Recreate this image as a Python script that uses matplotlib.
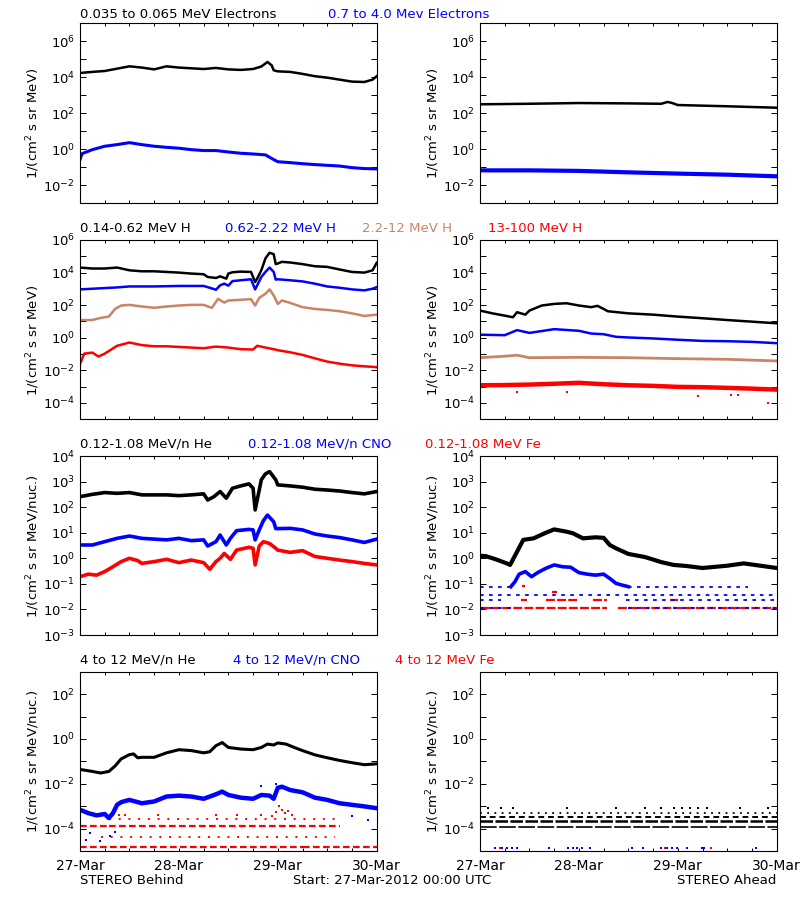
import matplotlib
matplotlib.use('Agg')
import matplotlib.pyplot as plt
import numpy as np
from matplotlib.ticker import FixedLocator, FuncFormatter, NullLocator

# time in hours after 27-Mar-2012 00:00 UTC, fluxes stored as log10 values
BROWN = '#c98466'

# ---- row 1 : electrons
beh_e1_t = [0, 3, 6, 9, 12, 15, 18, 21, 24, 27, 30, 33, 36, 39, 42, 44, 45.5, 46.5, 47, 48, 51, 54, 57, 60, 63, 66, 69, 71, 72]
beh_e1_v = [4.24, 4.3, 4.35, 4.48, 4.61, 4.54, 4.44, 4.61, 4.54, 4.5, 4.46, 4.52, 4.44, 4.41, 4.46, 4.6, 4.85, 4.67, 4.39, 4.33, 4.3, 4.19, 4.06, 3.98, 3.87, 3.76, 3.74, 3.87, 4.06]
beh_e2_t = [0, 0.5, 3, 6, 9, 12, 15, 18, 21, 24, 27, 30, 33, 36, 39, 42, 45, 47, 48, 51, 54, 57, 60, 63, 66, 69, 72]
beh_e2_v = [-0.57, -0.24, -0.02, 0.17, 0.26, 0.37, 0.26, 0.17, 0.11, 0.06, -0.02, -0.07, -0.07, -0.15, -0.22, -0.26, -0.31, -0.57, -0.69, -0.74, -0.8, -0.85, -0.89, -0.93, -1.02, -1.07, -1.09]
ahd_e1_t = [0, 12, 24, 36, 44, 45.5, 46.5, 48, 60, 66, 72]
ahd_e1_v = [2.5, 2.53, 2.57, 2.55, 2.53, 2.63, 2.58, 2.46, 2.39, 2.35, 2.31]
ahd_e2_t = [0, 12, 24, 36, 48, 60, 72]
ahd_e2_v = [-1.17, -1.17, -1.2, -1.28, -1.35, -1.41, -1.5]

# ---- row 2 : protons
beh_h1_t = [0, 3, 6, 9, 12, 15, 18, 21, 24, 27, 30, 31, 33, 34, 35.5, 36, 37, 39, 41.5, 42.5, 43, 44, 45, 46, 47, 47.5, 48, 49, 51, 54, 57, 60, 63, 66, 69, 71, 72]
beh_h1_v = [4.31, 4.25, 4.25, 4.31, 4.14, 4.08, 4.08, 4.04, 4.0, 3.94, 3.9, 3.73, 3.67, 3.77, 3.63, 3.94, 4.02, 4.06, 4.04, 3.42, 3.63, 4.14, 4.87, 5.22, 5.13, 4.52, 4.56, 4.66, 4.62, 4.52, 4.39, 4.35, 4.19, 4.04, 4.0, 4.14, 4.6]
beh_h2_t = [0, 3, 6, 9, 12, 18, 24, 30, 32, 33, 34, 35, 36, 37, 39, 41.5, 42.5, 43, 44, 45, 46, 47, 47.5, 48, 51, 54, 57, 60, 63, 66, 69, 71, 72]
beh_h2_v = [2.97, 3.01, 3.05, 3.09, 3.15, 3.15, 3.18, 3.18, 3.03, 2.95, 3.22, 3.32, 3.2, 3.48, 3.53, 3.59, 2.97, 3.22, 3.73, 4.04, 4.31, 4.04, 3.57, 3.59, 3.53, 3.46, 3.32, 3.15, 3.07, 2.97, 2.91, 3.01, 3.11]
beh_h3_t = [0, 3, 5, 7, 8.5, 10, 12, 15, 18, 21, 24, 27, 30, 32, 33.5, 35, 36, 39, 41.5, 42.5, 43.5, 45, 46, 47, 48, 49, 51, 54, 57, 60, 63, 66, 69, 72]
beh_h3_v = [1.09, 1.09, 1.22, 1.3, 1.77, 1.98, 2.02, 1.92, 1.84, 1.92, 1.98, 2.02, 2.02, 1.84, 2.39, 2.16, 2.29, 2.33, 2.37, 1.98, 2.45, 2.7, 2.97, 2.6, 2.08, 2.29, 2.14, 1.88, 1.77, 1.71, 1.63, 1.5, 1.34, 1.42]
beh_h4_t = [0, 1, 3, 4.5, 6, 9, 12, 15, 18, 21, 24, 27, 30, 33, 36, 39, 42, 43, 45, 47, 48, 51, 54, 57, 60, 63, 66, 69, 72]
beh_h4_v = [-1.63, -0.97, -0.91, -1.15, -0.97, -0.49, -0.29, -0.45, -0.52, -0.52, -0.56, -0.6, -0.64, -0.54, -0.6, -0.7, -0.72, -0.49, -0.6, -0.7, -0.76, -0.89, -1.05, -1.26, -1.46, -1.59, -1.69, -1.75, -1.8]
ahd_h1_t = [0, 3, 6, 8, 9, 11, 12, 15, 18, 21, 24, 27, 28.5, 30, 31, 36, 42, 48, 54, 60, 66, 72]
ahd_h1_v = [1.67, 1.5, 1.36, 1.26, 1.57, 1.42, 1.67, 1.98, 2.08, 2.12, 1.98, 1.88, 1.96, 1.77, 1.63, 1.5, 1.42, 1.3, 1.2, 1.09, 0.99, 0.89]
ahd_h2_t = [0, 6, 9, 12, 18, 24, 27, 30, 33, 36, 42, 48, 54, 60, 66, 72]
ahd_h2_v = [0.19, 0.16, 0.47, 0.3, 0.53, 0.43, 0.26, 0.22, 0.06, 0.02, -0.04, -0.12, -0.19, -0.21, -0.25, -0.33]
ahd_h3_t = [0, 6, 9, 12, 24, 36, 48, 60, 72]
ahd_h3_v = [-1.22, -1.13, -1.07, -1.22, -1.2, -1.22, -1.28, -1.32, -1.42]
ahd_h4_t = [0, 6, 12, 18, 24, 30, 36, 42, 48, 54, 60, 66, 72]
ahd_h4_v = [-2.91, -2.9, -2.87, -2.82, -2.76, -2.85, -2.91, -2.95, -3.01, -3.03, -3.07, -3.12, -3.18]
ahd_h4_out_t = [9, 21, 53, 61, 62.5, 70]
ahd_h4_out_v = [-3.35, -3.3, -3.55, -3.48, -3.48, -4.0]

# ---- row 3 : 0.12-1.08 MeV/n ions
beh_he_lo_t = [0, 3, 6, 9, 12, 15, 18, 21, 24, 27, 30, 31, 32.5, 34, 35.5, 37, 39, 41, 42, 42.5, 43.5, 44, 45, 46, 47.5, 48, 51, 54, 57, 60, 63, 66, 69, 72]
beh_he_lo_v = [2.41, 2.5, 2.57, 2.54, 2.57, 2.48, 2.48, 2.48, 2.45, 2.48, 2.52, 2.28, 2.41, 2.61, 2.35, 2.74, 2.83, 2.91, 2.74, 1.89, 2.67, 3.07, 3.3, 3.39, 3.07, 2.87, 2.83, 2.78, 2.7, 2.67, 2.63, 2.57, 2.52, 2.61]
beh_cno_lo_t = [0, 3, 6, 9, 12, 15, 18, 21, 24, 27, 30, 31, 33, 34, 35.5, 36.5, 38, 41, 42, 42.5, 43.5, 44.5, 45.5, 47, 47.5, 48, 51, 54, 57, 60, 63, 66, 69, 72]
beh_cno_lo_v = [0.52, 0.52, 0.65, 0.78, 0.87, 0.78, 0.75, 0.72, 0.78, 0.69, 0.72, 0.48, 0.65, 0.91, 0.52, 0.78, 1.08, 1.13, 1.11, 0.72, 1.11, 1.47, 1.69, 1.43, 1.16, 1.16, 1.17, 1.11, 0.95, 0.87, 0.81, 0.72, 0.62, 0.75]
beh_fe_lo_t = [0, 2, 4, 6, 8, 10, 12, 14, 15, 18, 21, 24, 27, 30, 31.5, 33, 34, 35, 36.5, 38, 41, 42, 42.5, 43.5, 44.5, 46, 47.5, 48, 51, 54, 57, 60, 63, 66, 69, 72]
beh_fe_lo_v = [-0.72, -0.62, -0.66, -0.52, -0.33, -0.13, 0.0, -0.09, -0.2, -0.13, -0.04, -0.17, -0.07, -0.17, -0.43, -0.13, 0.0, 0.19, -0.04, 0.32, 0.43, 0.39, -0.26, 0.48, 0.65, 0.58, 0.39, 0.32, 0.23, 0.3, 0.07, 0.0, -0.07, -0.13, -0.2, -0.26]

ahd_he_lo_t = [0, 1.5, 4, 6.5, 7.3, 9, 10.5, 13, 16, 18, 21, 22.5, 25, 28, 30, 31.5, 33, 36, 40, 44, 47, 50, 54, 60, 64, 68, 72]
ahd_he_lo_v = [0.1, 0.08, -0.05, -0.2, -0.26, 0.26, 0.72, 0.78, 1.0, 1.13, 1.04, 0.98, 0.78, 0.82, 0.8, 0.52, 0.39, 0.17, 0.05, -0.15, -0.26, -0.3, -0.38, -0.29, -0.2, -0.29, -0.38]
ahd_cno_lo_t = [7.5, 8.5, 9.5, 11, 12.5, 14, 16, 18, 20, 22, 24, 26, 28, 30, 31.5, 33, 34.5, 36]
ahd_cno_lo_v = [-1.11, -0.91, -0.62, -0.52, -0.72, -0.56, -0.39, -0.26, -0.33, -0.35, -0.56, -0.62, -0.66, -0.62, -0.79, -0.98, -1.05, -1.11]
# quantised count levels: level, start hour, end hour
ahd_cno_lo_lvl = [-1.96, -1.96, -1.64, -1.64, -1.44, -1.11, -1.11]
ahd_cno_lo_t0 = [0, 36, 0, 35.5, 0, 0, 36]
ahd_cno_lo_t1 = [8, 72, 5, 72, 72, 7.5, 65]
ahd_fe_lo_lvl = [-1.96, -1.96, -1.64, -1.64, -1.64, -1.64, -1.3, -1.08]
ahd_fe_lo_t0 = [0, 33.5, 10, 16, 27.5, 46, 17.4, 10.3]
ahd_fe_lo_t1 = [30.7, 72, 11.3, 24, 30.7, 48, 18.6, 10.8]

# ---- row 4 : 4-12 MeV/n ions
beh_he_hi_t = [0, 3, 5, 7, 8.5, 10, 12, 13, 14, 15, 18, 21, 24, 27, 30, 31.5, 33, 34.5, 36, 39, 42, 44, 45.5, 47, 48, 50, 52, 54, 57, 60, 63, 66, 69, 72]
beh_he_hi_v = [-1.36, -1.45, -1.52, -1.45, -1.21, -0.89, -0.7, -0.67, -0.84, -0.82, -0.82, -0.62, -0.48, -0.52, -0.62, -0.57, -0.3, -0.16, -0.38, -0.45, -0.48, -0.38, -0.23, -0.27, -0.18, -0.23, -0.38, -0.52, -0.71, -0.84, -0.96, -1.06, -1.15, -1.11]
beh_cno_hi_t = [0, 2, 4, 6, 7, 8, 9, 10, 12, 15, 18, 21, 24, 27, 30, 33, 34.5, 36, 39, 42, 44, 46, 47, 48, 49, 51, 54, 57, 60, 63, 66, 69, 72]
beh_cno_hi_v = [-3.16, -3.31, -3.41, -3.35, -3.53, -3.31, -2.94, -2.82, -2.72, -2.87, -2.79, -2.57, -2.53, -2.57, -2.67, -2.47, -2.35, -2.5, -2.62, -2.67, -2.5, -2.53, -2.67, -2.18, -2.13, -2.28, -2.38, -2.62, -2.72, -2.87, -2.94, -3.01, -3.09]
beh_cno_hi_dot_t = [2.4, 4.9, 7.3, 8.5, 1.5, 44, 47.5, 66, 70]
beh_cno_hi_dot_v = [-4.2, -4.55, -4.35, -4.15, -4.5, -2.1, -2.0, -3.45, -3.6]
beh_fe_hi_lvl = [-4.8, -4.8, -3.87, -3.87]
beh_fe_hi_t0 = [0, 54, 0, 7]
beh_fe_hi_t1 = [54, 72, 7, 63]
beh_fe_hi_sparse_lvl = [-4.38, -3.56]
beh_fe_hi_sparse_t0 = [5, 7]
beh_fe_hi_sparse_t1 = [62, 62]
beh_fe_hi_dot_t = [9.5, 11, 19, 33, 38, 44, 46.5, 47.5, 48.2, 49, 49.8, 50.5, 51.5]
beh_fe_hi_dot_v = [-3.38, -3.38, -3.38, -3.38, -3.38, -3.38, -3.45, -3.25, -3.0, -3.15, -3.3, -3.2, -3.4]

ahd_he_hi_lvl = [-3.95, -3.67, -3.5, -3.31]
ahd_he_hi_t0 = [0, 0, 0, 0]
ahd_he_hi_t1 = [72, 72, 72, 72]
ahd_he_hi_dot_t = [2, 5, 8, 21, 33, 40, 44, 47, 49, 51, 53, 55, 63, 70]
ahd_cno_hi_dot_t = [3.6, 5.3, 6.5, 7.7, 8.9, 16.7, 21.3, 22.5, 23.5, 24.7, 26.7, 37, 39.6, 43.9, 45.3, 46.5, 47.7, 50.2, 53.8, 54.4, 67]
ahd_fe_hi_dot_t = [4.9, 45, 56]

fig = plt.figure(figsize=(8, 9), dpi=100)
W, H = 800.0, 900.0
FS = 9.5


def lg(v):
    return 10.0 ** np.asarray(v, dtype=float)


def panel(x0, top, bottom, ylim, every, xlabels):
    ax = fig.add_axes([x0 / W, 1 - bottom / H, 296.7 / W, (bottom - top) / H])
    ax.set_yscale('log')
    ax.set_xlim(0, 72)
    ax.set_ylim(10.0 ** ylim[0], 10.0 ** ylim[1])
    ax.yaxis.set_major_locator(FixedLocator(10.0 ** np.arange(ylim[0], ylim[1] + 1)))
    ax.yaxis.set_minor_locator(NullLocator())

    def fmt(v, p):
        e = int(round(np.log10(v)))
        if e % every == 0:
            return r'$10^{%d}$' % e
        return ''
    ax.yaxis.set_major_formatter(FuncFormatter(fmt))
    ax.xaxis.set_major_locator(FixedLocator(np.arange(0, 73, 6)))
    names = {0: '27-Mar', 24: '28-Mar', 48: '29-Mar', 72: '30-Mar'}
    ax.xaxis.set_major_formatter(FuncFormatter(
        lambda v, p: names.get(int(round(v)), '') if xlabels else ''))
    ax.xaxis.set_minor_locator(NullLocator())
    ax.tick_params(axis='y', which='major', direction='in', left=True, right=True,
                   length=4.3, width=0.7, labelsize=9.5, pad=3.5)
    ax.tick_params(axis='x', which='major', direction='in', top=True, bottom=True,
                   length=2.2, width=0.7, labelsize=10, pad=6)
    for s in ax.spines.values():
        s.set_linewidth(0.8)
    return ax


def floors(ax, lvl, t0, t1, color, dash, lw=1.6):
    for v, a, b in zip(lvl, t0, t1):
        ax.plot([a, b], [10.0 ** v, 10.0 ** v], color=color, lw=lw,
                linestyle=(0, dash), solid_capstyle='butt', dash_capstyle='butt')


XL, XR = 80, 480
ROWS = [(23.3, 203.3), (240, 419.3), (456, 635), (671.7, 851)]

# row 1
ax = panel(XL, *ROWS[0], (-3, 7), 2, False)
ax.plot(beh_e1_t, lg(beh_e1_v), color='k', lw=1.8)
ax.plot(beh_e2_t, lg(beh_e2_v), color='b', lw=2.2)
ax = panel(XR, *ROWS[0], (-3, 7), 2, False)
ax.plot(ahd_e1_t, lg(ahd_e1_v), color='k', lw=1.8)
ax.plot(ahd_e2_t, lg(ahd_e2_v), color='b', lw=3.0)

# row 2
ax = panel(XL, *ROWS[1], (-5, 6), 2, False)
ax.plot(beh_h1_t, lg(beh_h1_v), color='k', lw=1.8)
ax.plot(beh_h2_t, lg(beh_h2_v), color='b', lw=1.8)
ax.plot(beh_h3_t, lg(beh_h3_v), color=BROWN, lw=1.8)
ax.plot(beh_h4_t, lg(beh_h4_v), color='r', lw=1.8)
ax = panel(XR, *ROWS[1], (-5, 6), 2, False)
ax.plot(ahd_h1_t, lg(ahd_h1_v), color='k', lw=1.8)
ax.plot(ahd_h2_t, lg(ahd_h2_v), color='b', lw=1.8)
ax.plot(ahd_h3_t, lg(ahd_h3_v), color=BROWN, lw=2.0)
ax.plot(ahd_h4_t, lg(ahd_h4_v), color='r', lw=3.2)
ax.plot(ahd_h4_out_t, lg(ahd_h4_out_v), 's', color='r', ms=1.6, mew=0)

# row 3
ax = panel(XL, *ROWS[2], (-3, 4), 1, False)
ax.plot(beh_he_lo_t, lg(beh_he_lo_v), color='k', lw=2.6)
ax.plot(beh_cno_lo_t, lg(beh_cno_lo_v), color='b', lw=2.6)
ax.plot(beh_fe_lo_t, lg(beh_fe_lo_v), color='r', lw=2.6)
ax = panel(XR, *ROWS[2], (-3, 4), 1, False)
floors(ax, ahd_fe_lo_lvl, ahd_fe_lo_t0, ahd_fe_lo_t1, 'r', (4, 1))
floors(ax, ahd_cno_lo_lvl, ahd_cno_lo_t0, ahd_cno_lo_t1, 'b', (2, 3), lw=1.3)
ax.plot(ahd_cno_lo_t, lg(ahd_cno_lo_v), color='b', lw=2.6)
ax.plot(ahd_he_lo_t, lg(ahd_he_lo_v), color='k', lw=3.0)

# row 4
ax = panel(XL, *ROWS[3], (-5, 3), 2, True)
floors(ax, beh_fe_hi_lvl, beh_fe_hi_t0, beh_fe_hi_t1, 'r', (3, 1.5))
floors(ax, beh_fe_hi_sparse_lvl, beh_fe_hi_sparse_t0, beh_fe_hi_sparse_t1, 'r', (1, 4), lw=1.4)
ax.plot(beh_fe_hi_dot_t, lg(beh_fe_hi_dot_v), 's', color='r', ms=2, mew=0)
ax.plot(beh_cno_hi_t, lg(beh_cno_hi_v), color='b', lw=3.2)
ax.plot(beh_cno_hi_dot_t, lg(beh_cno_hi_dot_v), 's', color='b', ms=2, mew=0)
ax.plot(beh_he_hi_t, lg(beh_he_hi_v), color='k', lw=2.2)
ax = panel(XR, *ROWS[3], (-5, 3), 2, True)
floors(ax, ahd_he_hi_lvl[:1], ahd_he_hi_t0[:1], ahd_he_hi_t1[:1], 'k', (10, 1.5), lw=1.2)
floors(ax, ahd_he_hi_lvl[1:2], ahd_he_hi_t0[1:2], ahd_he_hi_t1[1:2], 'k', (5, 1), lw=1.8)
floors(ax, ahd_he_hi_lvl[2:3], ahd_he_hi_t0[2:3], ahd_he_hi_t1[2:3], 'k', (3, 2), lw=1.4)
floors(ax, ahd_he_hi_lvl[3:], ahd_he_hi_t0[3:], ahd_he_hi_t1[3:], 'k', (1, 3), lw=1.3)
ax.plot(ahd_he_hi_dot_t, lg([-3.1] * len(ahd_he_hi_dot_t)), 's', color='k', ms=2, mew=0)
ax.plot(ahd_cno_hi_dot_t, lg([-4.85] * len(ahd_cno_hi_dot_t)), 's', color='b', ms=2, mew=0)
ax.plot(ahd_fe_hi_dot_t, lg([-4.85] * len(ahd_fe_hi_dot_t)), 's', color='r', ms=2, mew=0)

# titles
titles = [
    (14, [(80, '0.035 to 0.065 MeV Electrons', 'k'), (328, '0.7 to 4.0 Mev Electrons', 'b')]),
    (229, [(80, '0.14-0.62 MeV H', 'k'), (225, '0.62-2.22 MeV H', 'b'),
           (361.7, '2.2-12 MeV H', BROWN), (488, '13-100 MeV H', 'r')]),
    (444, [(80, '0.12-1.08 MeV/n He', 'k'), (248, '0.12-1.08 MeV/n CNO', 'b'),
           (425, '0.12-1.08 MeV Fe', 'r')]),
    (660, [(80, '4 to 12 MeV/n He', 'k'), (232.7, '4 to 12 MeV/n CNO', 'b'),
           (395, '4 to 12 MeV Fe', 'r')]),
]
for y, parts in titles:
    for x, s, c in parts:
        fig.text(x / W, 1 - y / H, s, color=c, fontsize=FS, ha='left', va='center')

ylabs = [(123, r'1/(cm$^2$ s sr MeV)'), (340, r'1/(cm$^2$ s sr MeV)'),
         (546, r'1/(cm$^2$ s sr MeV/nuc.)'), (761, r'1/(cm$^2$ s sr MeV/nuc.)')]
for y, s in ylabs:
    for x in (33, 433):
        fig.text(x / W, 1 - y / H, s, rotation=90, fontsize=FS, ha='center', va='center')

fig.text(80 / W, 1 - 881 / H, 'STEREO Behind', fontsize=FS, ha='left', va='center')
fig.text(292.7 / W, 1 - 881 / H, 'Start: 27-Mar-2012 00:00 UTC', fontsize=FS, ha='left', va='center')
fig.text(776 / W, 1 - 881 / H, 'STEREO Ahead', fontsize=FS, ha='right', va='center')

fig.savefig('out.png', dpi=100, facecolor='white')
